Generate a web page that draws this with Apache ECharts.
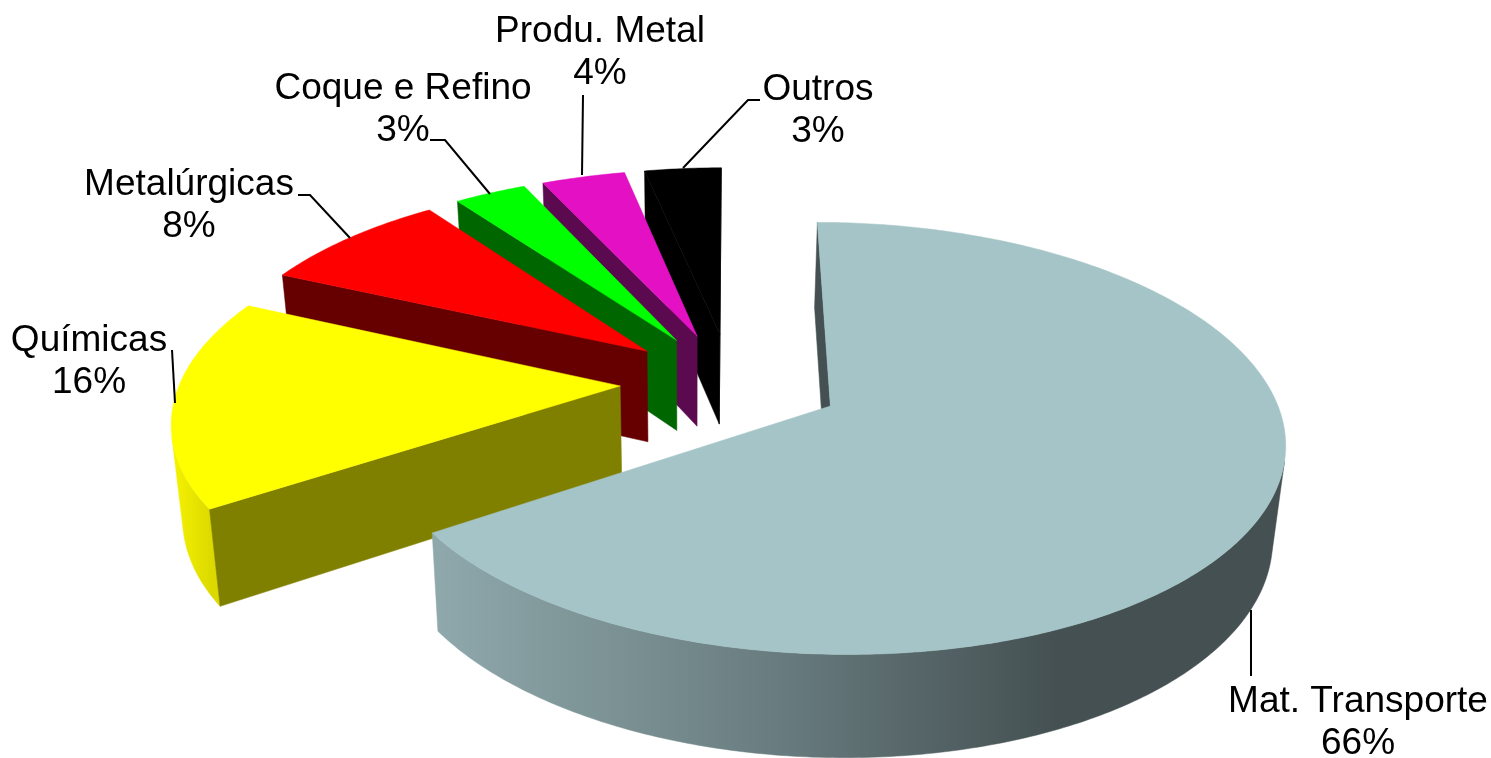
<!DOCTYPE html>
<html><head><meta charset="utf-8">
<style>html,body{margin:0;padding:0;background:#fff}#c{width:1491px;height:758px}</style>
<script src="https://cdn.jsdelivr.net/npm/echarts@6/dist/echarts.min.js"></script>
</head><body><div id="c"></div>
<script>
var categories = ['Mat. Transporte','Químicas','Metalúrgicas','Coque e Refino','Produ. Metal','Outros'];
var values = [65.7,16.1,8.2,3.1,3.6,3.3];
var topColors = ['#A4C4C7','#FFFF00','#FF0000','#00FF00','#E311C3','#000000'];
var radialColors = ['#445052','#808000','#660000','#006600','#5C0A50','#000000'];
var outerColors = ['#445052','#E0DC00','#660000','#006600','#5C0A50','#000000'];
var labelCenters = [[1358,702],[89,341],[189,185],[403,89],[600,32],[818,90]];
var leaders = [
  [[1251,610],[1251,676]],
  [[175,403],[172,350]],
  [[350,238],[310,195],[298,195]],
  [[490,194],[445,140],[430,140]],
  [[582,175],[583,95]],
  [[683,168],[748,100],[760,100]]
];
// projection of the tilted disc
var view = {ox:731, oy:382, a:440, b:204, d:6.77, explodeU:0.252, explodeV:0.244};
var FONT = '37px "Liberation Sans", Arial, sans-serif';
var LINE = 42;

function project(u,v){
  var s = view.d/(view.d-v);
  return [view.ox+view.a*u*s, view.oy+view.b*v*s];
}
function drop(p){ // the same point on the lower face of the pie
  return [p[0]-0.022*(p[0]-690), p[1]+76+0.0416*p[1]];
}
function facing(a,b){
  var c=drop(b), d=drop(a), q=[a,b,c,d], s=0;
  for(var i=0;i<4;i++){var m=q[i],n=q[(i+1)%4]; s+=m[0]*n[1]-n[0]*m[1];}
  return s<0;
}
var total = values.reduce(function(p,c){return p+c;},0);
var bounds = []; (function(){var acc=0; values.forEach(function(v){bounds.push([acc,acc+v]);acc+=v;});})();

function outerFill(i){
  if(i===0) return new echarts.graphic.LinearGradient(437,0,1060,0,[
    {offset:0,color:'#8FA8AB'},{offset:0.5,color:'#6C8083'},{offset:1,color:'#445052'}],true);
  if(i===1) return new echarts.graphic.LinearGradient(175,0,212,0,[
    {offset:0,color:'#F4F100'},{offset:1,color:'#DCD900'}],true);
  return outerColors[i];
}
function poly(points,fill,z2){
  return {type:'polygon',shape:{points:points},z2:z2,silent:true,
    style:{fill:fill,stroke:fill,lineWidth:0.5}};
}
function renderItem(params,api){
  var i = api.value(0), k = params.dataIndex*100;
  var th0 = bounds[i][0]/total*2*Math.PI, th1 = bounds[i][1]/total*2*Math.PI;
  var mid = (th0+th1)/2;
  var cu = view.explodeU*Math.sin(mid), cv = -view.explodeV*Math.cos(mid);
  var apex = project(cu,cv), rim = [];
  var n = Math.max(12,Math.round((th1-th0)*80));
  for(var j=0;j<=n;j++){
    var t = th0+(th1-th0)*j/n;
    rim.push(project(cu+Math.sin(t),cv-Math.cos(t)));
  }
  var kids = [];
  // outer wall: only the runs of the rim that face the viewer
  var run = [];
  function flush(){
    if(run.length>1){
      var pts = run.concat(run.slice().reverse().map(drop));
      kids.push(poly(pts,outerFill(i),k+1));
    }
    run=[];
  }
  for(j=0;j<n;j++){
    if(facing(rim[j],rim[j+1])){ if(!run.length) run.push(rim[j]); run.push(rim[j+1]); }
    else flush();
  }
  flush();
  // flat cut walls
  if(facing(apex,rim[0])) kids.push(poly([apex,rim[0],drop(rim[0]),drop(apex)],radialColors[i],k+2));
  if(facing(rim[n],apex)) kids.push(poly([rim[n],apex,drop(apex),drop(rim[n])],radialColors[i],k+2));
  // upper face
  kids.push(poly([apex].concat(rim),topColors[i],k+3));
  return {type:'group',children:kids};
}
function renderLabel(params,api){
  var i = api.value(0), c = labelCenters[i];
  var pct = Math.round(values[i]/total*100)+'%';
  var kids = [{type:'polyline',shape:{points:leaders[i]},z2:5000,silent:true,
      style:{stroke:'#000',lineWidth:2,fill:null}}];
  [categories[i],pct].forEach(function(txt,r){
    kids.push({type:'text',z2:5001,silent:true,style:{
      x:c[0],y:c[1]+r*LINE,text:txt,font:FONT,fill:'#000',align:'center',verticalAlign:'middle'}});
  });
  return {type:'group',children:kids};
}
var order = categories.map(function(_,i){return [categories.length-1-i];});
var chart = echarts.init(document.getElementById('c'),null,{renderer:'canvas'});
chart.setOption({
  animation:false,
  backgroundColor:'#fff',
  series:[
    {type:'custom',coordinateSystem:'none',renderItem:renderItem,data:order,z:1,silent:true},
    {type:'custom',coordinateSystem:'none',renderItem:renderLabel,data:order,z:2,silent:true}
  ]
});
</script></body></html>
